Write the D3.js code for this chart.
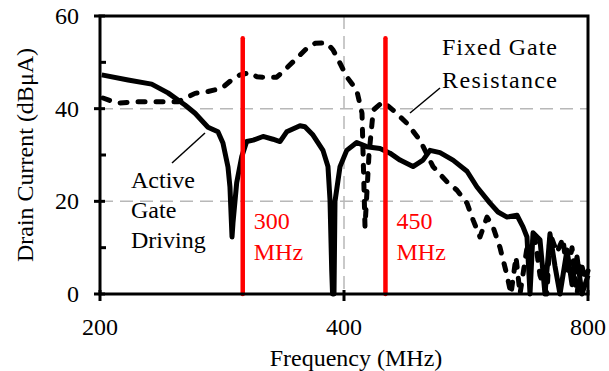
<html>
<head>
  <meta charset="utf8">
  <title>Drain current spectrum</title>
  <style>
  * { margin: 0; padding: 0; }
  body { background: #fff; }
  </style>
</head>
<body>
  <script src="https://cdn.jsdelivr.net/npm/d3@7"></script>
  <script>
  // chart data
  var activeFreq = [201, 216.6, 231.6, 242.6, 254.6, 262, 271.8, 279.6, 283.6, 287.7, 289.3, 291, 291.8, 294.9, 299.1, 303.4,
    309.1, 317.8, 326.9, 333.5, 339.9, 353, 358, 366.3, 376.8, 382.2, 384.4, 386.3, 387.2, 388.8, 389.9, 395.5, 403.1, 414.7,
    426.6, 443.1, 455.8, 469, 486.6, 500.6, 510.7, 525.4, 545.2, 567.3, 583.6, 605.6, 619.5, 635.6, 653.9, 665.1, 672.7,
    678.5, 684.3, 698, 708, 718.1, 728.4, 738.8, 753.7, 764.5, 775.4, 786.5, 800];
  var activeLevel = [47.3, 46.2, 45.3, 43.4, 40.8, 39, 36, 35, 32.6, 27.4, 23.1, 12.3, 15.3, 24, 29.6, 32.9,
    33.2, 34, 33.4, 32.9, 35, 36.3, 36.1, 34.3, 31, 27.5, 20.3, 5, 0, 0, 20, 27.5, 31, 32.7,
    31.8, 31.4, 30.4, 28.9, 27.5, 28.9, 31, 30.5, 28.9, 26.5, 23.1, 19.6, 17.7, 16.6, 17, 14.5, 12.3,
    0, 13.2, 11.7, 0, 13, 6, 0, 9.5, 2, 8, 0, 4];

  var fixedFreq = [201.7, 209.9, 222.8, 238.3, 249.6, 262, 271.8, 282.6, 290.7, 297.7, 306.3, 312.1, 317.8, 330.4, 336.3,
    346, 359.8, 368.4, 380.8, 387.7, 395.5, 403.1, 414.7, 421, 424.6, 429.4, 434.7, 446.9, 459.7, 478, 496.4, 515.1, 536,
    551.4, 567.3, 577.1, 588.6, 600.5, 610.8, 623.1, 635.6, 642.8, 652, 659.5, 672.7, 688.2, 698, 712, 718.1, 732.6,
    745.2, 753.7, 764.5, 775.4, 784.3, 793.2, 800];
  var fixedLevel = [42.3, 41.2, 41.5, 41.5, 41.5, 43.3, 43.7, 44.4, 46.2, 47.3, 47.8, 46.9, 46.8, 46.8, 48,
    50.1, 53, 54.1, 54.2, 52.7, 49.8, 46.9, 44, 39, 14.5, 30, 39.7, 41.5, 39.7, 36.9, 33.2, 27.5, 24.2,
    22.4, 19.6, 16, 12.3, 16.6, 14.5, 10, 4, 0, 8, 0, 10, 12, 4, 0, 13, 9,
    12, 4, 10, 0, 7, 3, 5];

  var markerFreq = [300, 450];
  var markerTop = 55.2;
  var xTicks = [200, 400, 800];
  var yTicks = [0, 20, 40, 60];
  var yMinor = [10, 30, 50];
  var gridY = [20, 40];
  var gridX = [400];

  var w = 609, h = 371;
  var plotL = 100, plotR = 588, plotT = 16, plotB = 294;
  var serif = "'Liberation Serif', 'Times New Roman', Times, serif";

  var x = d3.scaleLog().base(2).domain([200, 800]).range([plotL, plotR]);
  var y = d3.scaleLinear().domain([0, 60]).range([plotB, plotT]);

  var svg = d3.select("body").append("svg")
    .attr("width", w)
    .attr("height", h)
    .attr("font-family", serif)
    .attr("font-size", 24);

  // grid
  svg.selectAll(".gy").data(gridY).enter().append("line")
    .attr("x1", plotL).attr("x2", plotR)
    .attr("y1", function(d) { return y(d); }).attr("y2", function(d) { return y(d); })
    .attr("stroke", "#b8b8b8").attr("stroke-width", 1.5).attr("stroke-dasharray", "13,7");
  svg.selectAll(".gx").data(gridX).enter().append("line")
    .attr("x1", function(d) { return x(d); }).attr("x2", function(d) { return x(d); })
    .attr("y1", plotT).attr("y2", plotB)
    .attr("stroke", "#b8b8b8").attr("stroke-width", 1.5).attr("stroke-dasharray", "13,7");

  var line = d3.line()
    .x(function(d) { return x(d[0]); })
    .y(function(d) { return y(d[1]); });

  var fixedData = d3.zip(fixedFreq, fixedLevel);
  var activeData = d3.zip(activeFreq, activeLevel);

  svg.append("path")
    .datum(fixedData)
    .attr("d", line)
    .attr("fill", "none").attr("stroke", "#000").attr("stroke-width", 5)
    .attr("stroke-linecap", "round").attr("stroke-linejoin", "round")
    .attr("stroke-dasharray", "7,11");

  svg.append("path")
    .datum(activeData)
    .attr("d", line)
    .attr("fill", "none").attr("stroke", "#000").attr("stroke-width", 5)
    .attr("stroke-linejoin", "round");

  // red markers
  svg.selectAll(".marker").data(markerFreq).enter().append("line")
    .attr("x1", function(d) { return x(d); }).attr("x2", function(d) { return x(d); })
    .attr("y1", y(markerTop)).attr("y2", y(0))
    .attr("stroke", "#ff0000").attr("stroke-width", 4.5).attr("stroke-linecap", "round");

  svg.selectAll(".mlabel").data(markerFreq).enter().append("text")
    .attr("x", function(d) { return x(d) + 11; })
    .attr("y", 229)
    .attr("fill", "#ff0000")
    .each(function(d) {
      var t = d3.select(this);
      t.append("tspan").attr("x", x(d) + 11).text(d);
      t.append("tspan").attr("x", x(d) + 11).attr("dy", 31).text("MHz");
    });

  // frame
  svg.append("rect")
    .attr("x", plotL).attr("y", plotT)
    .attr("width", plotR - plotL).attr("height", plotB - plotT)
    .attr("fill", "none").attr("stroke", "#000").attr("stroke-width", 3);

  // y ticks
  svg.selectAll(".yt").data(yTicks).enter().append("line")
    .attr("x1", plotL - 6).attr("x2", plotL + 5)
    .attr("y1", function(d) { return y(d); }).attr("y2", function(d) { return y(d); })
    .attr("stroke", "#000").attr("stroke-width", 3);
  svg.selectAll(".ym").data(yMinor).enter().append("line")
    .attr("x1", plotL).attr("x2", plotL + 6)
    .attr("y1", function(d) { return y(d); }).attr("y2", function(d) { return y(d); })
    .attr("stroke", "#000").attr("stroke-width", 3);
  svg.selectAll(".yl").data(yTicks).enter().append("text")
    .attr("x", 79)
    .attr("y", function(d) { return y(d) + 8; })
    .attr("text-anchor", "end")
    .text(function(d) { return d; });

  // x ticks
  svg.selectAll(".xt").data(xTicks).enter().append("line")
    .attr("x1", function(d) { return x(d); }).attr("x2", function(d) { return x(d); })
    .attr("y1", plotB - 4).attr("y2", plotB + 7)
    .attr("stroke", "#000").attr("stroke-width", 3);
  svg.selectAll(".xl").data(xTicks).enter().append("text")
    .attr("x", function(d) { return x(d); })
    .attr("y", 335)
    .attr("text-anchor", "middle")
    .text(function(d) { return d; });

  // axis titles
  svg.append("text")
    .attr("x", 356).attr("y", 366)
    .attr("text-anchor", "middle")
    .text("Frequency (MHz)");
  svg.append("text")
    .attr("transform", "translate(33,155) rotate(-90)")
    .attr("text-anchor", "middle")
    .text("Drain Current (dBμA)");

  // series labels
  svg.append("text")
    .attr("x", 442).attr("y", 55)
    .attr("textLength", 115)
    .text("Fixed Gate");
  svg.append("text")
    .attr("x", 442).attr("y", 88)
    .attr("textLength", 115)
    .text("Resistance");
  svg.append("line")
    .attr("x1", 440).attr("y1", 88).attr("x2", 410).attr("y2", 113)
    .attr("stroke", "#000").attr("stroke-width", 1.5);

  var activeLines = ["Active", "Gate", "Driving"];
  svg.selectAll(".al").data(activeLines).enter().append("text")
    .attr("x", 131)
    .attr("y", function(d, i) { return 188 + i * 30; })
    .text(function(d) { return d; });
  svg.append("line")
    .attr("x1", 172).attr("y1", 163).attr("x2", 205).attr("y2", 133)
    .attr("stroke", "#000").attr("stroke-width", 1.5);
  </script>
</body>
</html>
